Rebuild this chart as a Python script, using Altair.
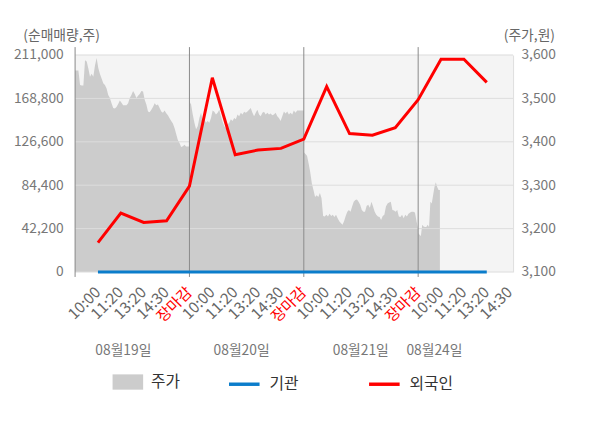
import altair as alt
import pandas as pd

# ---------------- data ----------------
time_labels = ["10:00", "11:20", "13:20", "14:30", "장마감"] * 3 + ["10:00", "11:20", "13:20", "14:30"]
tick_positions = list(range(1, 20))
day_bounds = [0, 5, 10, 15]
date_labels = ["08월19일", "08월20일", "08월21일", "08월24일"]
date_positions = [2.11, 7.28, 12.49, 15.71]
left_ticks = [0, 42200, 84400, 126600, 168800, 211000]
right_ticks = [3100, 3200, 3300, 3400, 3500, 3600]

price_day1 = [3564, 3564, 3564, 3531, 3530, 3530, 3588, 3585, 3569, 3550, 3557, 3550, 3576, 3593,
              3570, 3556, 3546, 3535, 3531, 3523, 3508, 3501, 3489, 3478, 3477, 3480, 3487, 3495,
              3490, 3484, 3484, 3484, 3489, 3501, 3508, 3517, 3510, 3501, 3506, 3510, 3517, 3516,
              3497, 3486, 3470, 3468, 3474, 3480, 3489, 3484, 3486, 3478, 3470, 3467, 3472, 3466,
              3461, 3454, 3448, 3442, 3432, 3418, 3404, 3397, 3388, 3390, 3393, 3389, 3389, 3389]
price_day2 = [3493, 3486, 3463, 3444, 3429, 3436, 3455, 3467, 3448, 3452, 3444, 3448, 3444, 3455,
              3472, 3469, 3463, 3467, 3474, 3459, 3446, 3436, 3432, 3440, 3444, 3452, 3448, 3455,
              3452, 3463, 3459, 3467, 3463, 3469, 3467, 3470, 3474, 3478, 3467, 3459, 3467, 3474,
              3463, 3459, 3467, 3469, 3463, 3467, 3463, 3465, 3461, 3463, 3467, 3459, 3455, 3448,
              3459, 3470, 3465, 3470, 3463, 3467, 3463, 3472, 3467, 3472, 3472, 3472, 3472, 3472]
price_day3 = [3376, 3372, 3368, 3350, 3330, 3304, 3289, 3273, 3277, 3273, 3282, 3270, 3229, 3228,
              3232, 3228, 3234, 3229, 3232, 3227, 3232, 3224, 3217, 3213, 3209, 3217, 3229, 3239,
              3243, 3239, 3251, 3262, 3266, 3267, 3262, 3255, 3243, 3239, 3239, 3252, 3255, 3248,
              3262, 3251, 3239, 3232, 3228, 3227, 3220, 3229, 3232, 3251, 3258, 3260, 3262, 3243,
              3242, 3239, 3243, 3228, 3227, 3232, 3224, 3232, 3228, 3234, 3237, 3239, 3239, 3237,
              3217, 3198]
price_day4 = [3190, 3186, 3183, 3209, 3205, 3204, 3204, 3209, 3204, 3262, 3258, 3277, 3296, 3307,
              3296, 3289, 3289]
price_days = [price_day1, price_day2, price_day3, price_day4]
day_spans = [5, 5, 5, 0.95]   # portion of each session covered by price data (in label units)
price_base = 3100

line_positions = list(range(1, 19))
foreign = [28500, 57250, 48250, 49870, 83500, 188900, 114100, 118600, 120200, 129200,
           180300, 134600, 133000, 140300, 167600, 206900, 206900, 184400]
institution = [0] * 18

area_name = ["주가"]
area_color = ["#cccccc"]
line_names = ["기관", "외국인"]
line_colors = ["#0b7dcb", "#ff0000"]

# ---------------- frames ----------------
rows = []
for d, (vals, span) in enumerate(zip(price_days, day_spans)):
    n = len(vals)
    for i, v in enumerate(vals):
        rows.append({"pos": day_bounds[d] + span * i / (n - 1), "price": v, "base": price_base,
                     "day": d, "series": area_name[0]})
price_df = pd.DataFrame(rows)

line_df = pd.DataFrame(
    [{"pos": p, "value": v, "series": line_names[0]} for p, v in zip(line_positions, institution)]
    + [{"pos": p, "value": v, "series": line_names[1]} for p, v in zip(line_positions, foreign)]
)
grid_df = pd.DataFrame({"v": right_ticks})
bound_df = pd.DataFrame({"b": day_bounds})
date_df = pd.DataFrame({"pos": date_positions, "label": date_labels})
tick_df = pd.DataFrame({"pos": tick_positions, "label": time_labels})

FONT = "Noto Sans CJK KR"
xscale = alt.Scale(domain=[0, 19.15], nice=False, zero=False)
lscale = alt.Scale(domain=[0, 211000], nice=False, zero=True)
rscale = alt.Scale(domain=[3100, 3600], nice=False, zero=False)

xaxis = alt.Axis(values=tick_positions, labels=False, ticks=False, grid=False,
                 domain=True, domainColor="#aaaaaa", title=None)
left_axis = alt.Axis(orient="left", values=left_ticks, format=",d", ticks=False, grid=False,
                     labelPadding=12, labelFontSize=14, labelFont=FONT, labelColor="#777777",
                     domain=False,
                     title="(순매매량,주)", titleAngle=0, titleX=-53, titleY=-20,
                     titleAlign="left", titleBaseline="middle", titleFontSize=14,
                     titleFont=FONT, titleFontWeight="normal", titleColor="#666666")
right_axis = alt.Axis(orient="right", values=right_ticks, format=",d", ticks=False, grid=False,
                      labelPadding=8, labelFontSize=14, labelFont=FONT, labelColor="#777777",
                      domain=True, domainColor="#dddddd",
                      title="(주가,원)", titleAngle=0, titleX=42, titleY=-20,
                      titleAlign="right", titleBaseline="middle", titleFontSize=14,
                      titleFont=FONT, titleFontWeight="normal", titleColor="#666666")

area_legend = alt.Legend(
    title=None, orient="none", legendX=38, legendY=316, direction="horizontal",
    labelOffset=8, symbolSize=961, symbolType="M-1,-0.5H1V0.5H-1Z", symbolStrokeWidth=0,
    symbolOpacity=1, padding=0, labelFontSize=16, labelFont=FONT, labelColor="#333333",
)
line_legend = alt.Legend(
    title=None, orient="none", legendX=154, legendY=316, direction="horizontal", columns=2,
    columnPadding=64, labelOffset=8, symbolSize=961, symbolType="stroke", symbolStrokeWidth=3.5,
    padding=0, labelFontSize=16, labelFont=FONT, labelColor="#333333",
)

area = alt.Chart(price_df).mark_area(interpolate="linear", opacity=1).encode(
    x=alt.X("pos:Q", scale=xscale, axis=None),
    y=alt.Y("price:Q", scale=rscale, axis=right_axis),
    y2="base:Q",
    fill=alt.Fill("series:N", scale=alt.Scale(domain=area_name, range=area_color), legend=area_legend),
    detail="day:N",
)
grid = alt.Chart(grid_df).mark_rule(color="#dcdcdc", strokeWidth=1).encode(
    y=alt.Y("v:Q", scale=rscale, axis=None),
)
bounds = alt.Chart(bound_df).mark_rule(color="#888888", strokeWidth=1).encode(
    x=alt.X("b:Q", scale=xscale, axis=None),
    y=alt.value(-8), y2=alt.value(225),
)
lines = alt.Chart(line_df).mark_line(strokeWidth=3).encode(
    x=alt.X("pos:Q", scale=xscale, axis=xaxis),
    y=alt.Y("value:Q", scale=lscale, axis=left_axis),
    stroke=alt.Stroke("series:N", scale=alt.Scale(domain=line_names, range=line_colors), legend=line_legend),
    order=alt.Order("pos:Q"),
)
tick_text = alt.Chart(tick_df).mark_text(fontSize=15.5, font=FONT, angle=315, align="right",
                                         baseline="middle").encode(
    x=alt.X("pos:Q", scale=xscale, axis=None),
    y=alt.value(238),
    text="label:N",
    color=alt.condition(alt.datum.label == "장마감", alt.value("#ff0000"), alt.value("#666666")),
)
dates = alt.Chart(date_df).mark_text(fontSize=14, font=FONT, color="#777777", align="center",
                                     baseline="middle").encode(
    x=alt.X("pos:Q", scale=xscale, axis=None),
    y=alt.value(300),
    text="label:N",
)

chart = alt.layer(area, grid, bounds, lines, tick_text, dates).resolve_scale(y="independent").properties(
    width=444, height=220,
    autosize=alt.AutoSizeParams(type="none"),
    padding={"left": 68, "top": 45, "right": 80, "bottom": 120},
).configure_view(fill="#f4f4f4", strokeWidth=0)

chart.save("out.html", embed_options={"renderer": "svg", "actions": False})
